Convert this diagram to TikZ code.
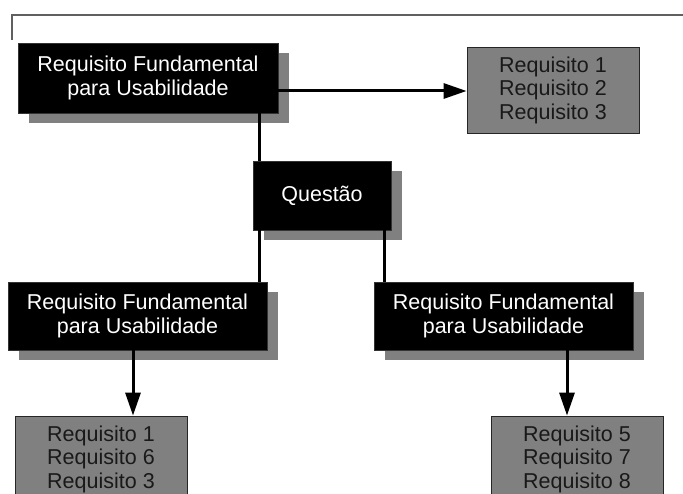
\documentclass[tikz,border=0pt]{standalone}
\usepackage{fontspec}
\setmainfont{Liberation Sans}
\usetikzlibrary{arrows.meta,shadows}
\definecolor{shadowgray}{HTML}{808080}
\definecolor{reqgray}{HTML}{808080}
\definecolor{framegray}{HTML}{606060}
\begin{document}
\begin{tikzpicture}[x=1pt,y=-1pt,
  darkbox/.style={fill=black, draw=black!80, line width=0.6pt, text=white,
    align=center, inner sep=0pt,
    font=\fontsize{21.5}{24}\selectfont,
    general shadow={fill=shadowgray, shadow xshift=10.5pt, shadow yshift=-10.5pt}},
  reqbox/.style={fill=reqgray, draw=black!85, line width=0.8pt, text=black!90,
    align=center, inner sep=0pt, minimum width=172pt, minimum height=86pt,
    font=\fontsize{21.5}{23.5}\selectfont},
  conn/.style={line width=3pt, black},
  arr/.style={conn, -{Triangle[length=23pt,width=15pt]}},
  frameline/.style={framegray, line width=1.2pt}]
\useasboundingbox (0,0) rectangle (683,494);
\begin{scope}
\clip (0,0) rectangle (683,494);
% frame
\coordinate (f1) at (12,40);
\coordinate (f2) at (12,15);
\coordinate (f3) at (684,15);
\draw[frameline] (f1) -- (f2) -- (f3);
% nodes
\node[darkbox, minimum width=260pt, minimum height=70pt] (A) at (148,78)
  {Requisito Fundamental\\para Usabilidade};
\node[reqbox] (R1) at (553,90) {Requisito 1\\Requisito 2\\Requisito 3};
\node[darkbox, minimum width=138pt, minimum height=69pt] (Q) at (322,195.5) {Questão};
\node[darkbox, minimum width=259pt, minimum height=68pt] (B) at (137.5,316)
  {Requisito Fundamental\\para Usabilidade};
\node[darkbox, minimum width=259pt, minimum height=68pt] (C) at (503.5,316)
  {Requisito Fundamental\\para Usabilidade};
\node[reqbox] (R2) at (101,459) {Requisito 1\\Requisito 6\\Requisito 3};
\node[reqbox] (R3) at (577,459) {Requisito 5\\Requisito 7\\Requisito 8};
% connectors
\draw[arr] ([yshift=-13pt]A.east) -- ([yshift=-13pt]A.east -| R1.west);
\draw[conn] ([xshift=7pt]Q.north west |- A.south) -- ([xshift=7pt]Q.north west);
\draw[conn] ([xshift=7pt]Q.south west) -- ([xshift=7pt]Q.south west |- B.north);
\draw[conn] ([xshift=-7pt]Q.south east) -- ([xshift=-7pt]Q.south east |- C.north);
\draw[arr] ([xshift=-4.5pt]B.south) -- ([xshift=-4.5pt]B.south |- R2.north);
\draw[arr] ([xshift=-10pt]R3.north |- C.south) -- ([xshift=-10pt]R3.north);
\end{scope}
\end{tikzpicture}
\end{document}
